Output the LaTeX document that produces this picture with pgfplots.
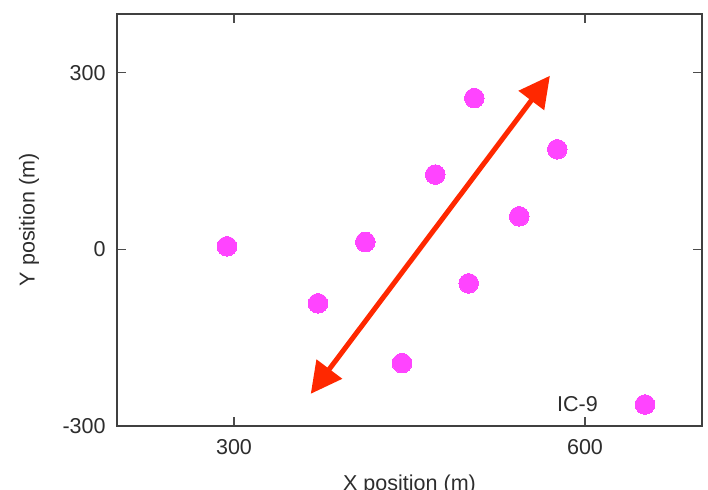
\documentclass[border=0pt]{standalone}
\usepackage{pgfplots}
\pgfplotsset{compat=1.18}
\usepackage{fontspec}
\setmainfont{Liberation Sans}
\usetikzlibrary{arrows.meta}
\definecolor{dotmag}{RGB}{255,68,255}
\definecolor{arrred}{RGB}{255,40,0}
\definecolor{txt}{RGB}{45,45,45}
\begin{document}
\fontsize{21.6}{24}\selectfont
\begin{tikzpicture}
\begin{axis}[
  name=ax,
  scale only axis,
  width=585bp, height=411.7bp,
  xmin=200, xmax=700, ymin=-300, ymax=400,
  xtick={300,600}, ytick={-300,0,300},
  tick align=inside,
  major tick length=9bp,
  tick style={black!70, line width=1.2bp},
  axis line style={black!75, line width=1.6bp},
  /pgf/number format/assume math mode=true,
  ticklabel style={font=\fontsize{21.6}{24}\selectfont, text=txt},
  xticklabel style={yshift=-6bp},
  yticklabel style={xshift=-4bp},
  label style={font=\fontsize{21.6}{24}\selectfont, text=txt},
  xlabel={X position (m)},
  ylabel={Y position (m)},
  xlabel style={yshift=-6bp},
  ylabel style={yshift=9bp},
  clip=false,
]
\addplot[only marks, color=dotmag, mark=*, mark size=9.8bp, mark options={draw=dotmag, fill=dotmag, line width=0pt}] coordinates {
  (294,5) (371.8,-92) (412.2,12.4) (443.6,-193.7) (472,127)
  (500.6,-58) (505.4,257) (543.8,56) (576.3,170) (651.3,-264)
};
\addplot[arrred, line width=5bp, {Triangle[length=31bp,width=31bp]}-{Triangle[length=31bp,width=31bp]}] coordinates {
  (365.6,-245.8) (570,295)
};
\node[text=txt, font=\fontsize{21.6}{24}\selectfont] at (axis cs:593.6,-264) {IC-9};
\end{axis}
\pgfresetboundingbox
\path[use as bounding box] ([xshift=-117bp,yshift=-63.3bp]ax.south west) rectangle ([xshift=6bp,yshift=14bp]ax.north east);
\end{tikzpicture}
\end{document}
